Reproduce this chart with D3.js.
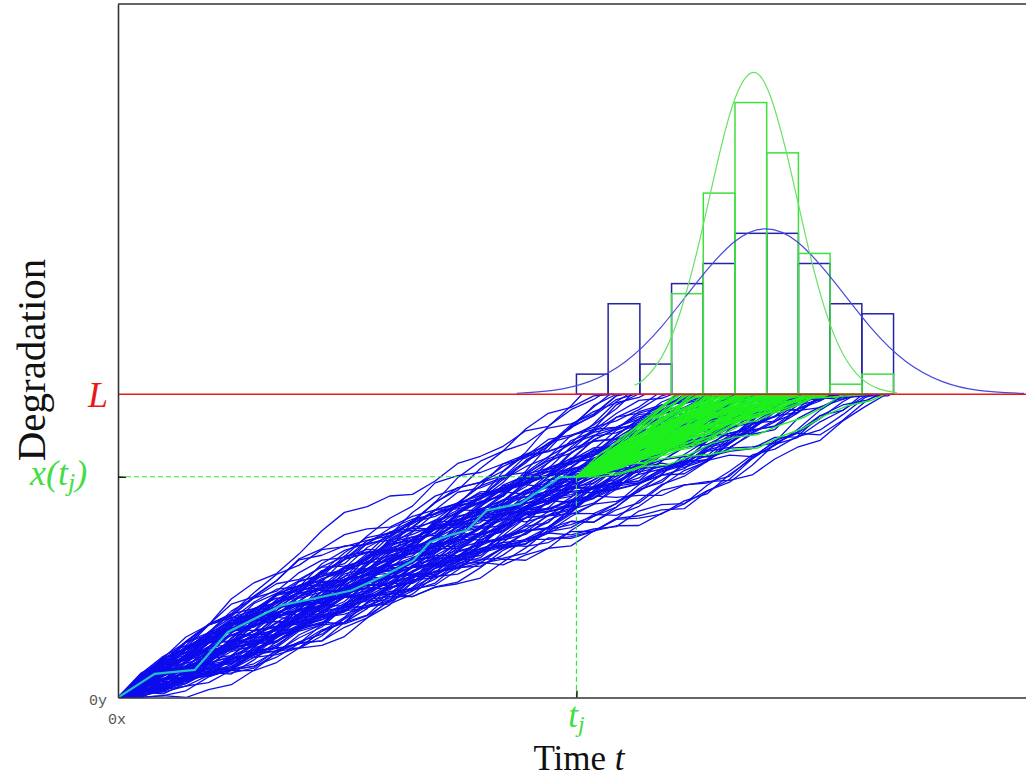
<!DOCTYPE html>
<html>
<head>
<meta charset="utf-8">
<script src="https://cdn.jsdelivr.net/npm/d3@7"></script>
<style>
  html, body { margin: 0; padding: 0; background: #fff; }
  svg { display: block; }
</style>
</head>
<body>
<svg id="chart" width="1026" height="780"></svg>
<script>
// ---- Model constants -------------------------------------------------------
const threshold = 1;          // failure threshold L
const tObs = 50.6;            // observation time t_j
const xObs = 0.728;           // observed degradation x(t_j)
const stepH = 2.5;            // simulation time step

// ---- Histograms of first-passage times (bins of width 3.5 starting at t_j) --
const binStart = 50.6;
const binWidth = 3.5;
const blueCounts  = [2, 9, 3, 11, 13, 16, 16, 13, 9, 8];
const greenCounts = [0, 0, 0, 10, 20, 29, 24, 14, 1, 2];

// ---- First-passage times of the unconditional (prior) paths ----------------
const blueHitTimes = [
  51.2, 53.4,
  54.3, 54.7, 55.0, 55.4, 55.9, 56.3, 56.7, 57.0, 57.4,
  58.2, 59.5, 60.6,
  61.2, 61.5, 61.8, 62.1, 62.5, 62.8, 63.1, 63.5, 63.8, 64.1, 64.4,
  64.7, 64.95, 65.2, 65.5, 65.8, 66.0, 66.3, 66.6, 66.9, 67.2, 67.5, 67.7, 68.0,
  68.2, 68.4, 68.6, 68.8, 69.0, 69.3, 69.5, 69.7, 69.9, 70.2, 70.4, 70.6, 70.8, 71.0, 71.2, 71.5,
  71.7, 71.9, 72.1, 72.3, 72.5, 72.8, 73.0, 73.2, 73.4, 73.7, 73.9, 74.1, 74.3, 74.5, 74.8, 75.0,
  75.2, 75.5, 75.8, 76.0, 76.3, 76.6, 76.9, 77.1, 77.4, 77.7, 77.9, 78.2, 78.5,
  78.7, 79.1, 79.5, 79.9, 80.3, 80.7, 81.1, 81.5, 81.9,
  82.2, 82.6, 83.0, 83.5, 83.9, 84.3, 84.8, 85.3
];

// ---- First-passage times of the paths conditioned on x(t_j) ----------------
const greenHitTimes = [
  61.5, 61.9, 62.2, 62.5, 62.8, 63.1, 63.4, 63.7, 64.0, 64.3,
  64.7, 64.85, 65.0, 65.2, 65.35, 65.5, 65.7, 65.85, 66.0, 66.2,
  66.35, 66.5, 66.7, 66.85, 67.0, 67.2, 67.35, 67.5, 67.7, 67.9,
  68.2, 68.3, 68.4, 68.5, 68.6, 68.7, 68.8, 68.9, 69.0, 69.1,
  69.2, 69.3, 69.4, 69.5, 69.6, 69.7, 69.8, 69.9, 70.0, 70.1,
  70.3, 70.5, 70.6, 70.8, 70.9, 71.0, 71.2, 71.3, 71.5,
  71.7, 71.8, 72.0, 72.1, 72.3, 72.4, 72.6, 72.7, 72.9, 73.0, 73.2, 73.3,
  73.5, 73.6, 73.8, 73.9, 74.1, 74.2, 74.4, 74.5, 74.6, 74.8, 74.9, 75.0,
  75.2, 75.4, 75.7, 75.9, 76.2, 76.4, 76.7, 76.9, 77.2, 77.4, 77.7, 77.9, 78.2, 78.4,
  80.0,
  83.0, 84.6
];

// ---- Observed degradation path up to t_j -----------------------------------
const observedPath = [
  [0, 0], [4.05, 0.078], [8.47, 0.091], [12.14, 0.216], [18.02, 0.304],
  [20.6, 0.320], [25.75, 0.353], [29.06, 0.397], [32.6, 0.452], [34.44, 0.513],
  [36.64, 0.535], [38.49, 0.551], [40.69, 0.617], [44.37, 0.639], [48.79, 0.727],
  [50.6, 0.728]
];

// ---- Fitted densities, expressed in histogram counts -----------------------
const blueFit = [
  [44, 0.1], [48, 0.39], [52, 1.26], [56, 3.24], [60, 6.73], [64, 11.25],
  [68, 15.14], [71.5, 16.45], [75, 15.14], [79, 11.25], [83, 6.73],
  [87, 3.24], [91, 1.26], [95, 0.39], [100, 0.08]
];
const greenFit = [
  [57, 0.9], [58, 1.44], [60, 3.69], [62, 7.98], [64, 14.55], [66, 22.41],
  [68, 29.15], [70.1, 32.0], [72, 29.65], [74, 23.2], [76, 15.32],
  [78, 8.54], [80, 4.02], [82, 1.6], [84, 0.54], [86, 0.15]
];

// ---- Step noise (standardised increments) used to roughen the paths --------
const noiseProfiles = [
  [1.1,0.3,0.9,-0.4,1.6,0.2,-0.8,0.7,1.2,0.5,-1.3,-0.6,-1.9,-0.2,0.4,-1.1,-0.7,0.1,-1.5,0.8,1.4,0.6,1.0,-0.3,0.9,0.2,-0.5,-1.2,-0.9,0.3,-0.6,-1.4,0.5,1.3,0.8,0.1],
  [-0.6,-1.2,0.4,-0.9,-1.5,0.3,-0.2,-0.8,1.0,-0.4,-1.1,0.6,0.2,1.5,0.9,1.2,-0.3,0.7,1.8,0.4,-0.5,0.1,-1.0,-1.6,-0.7,0.5,-0.3,1.1,0.6,-0.9,-0.4,1.3,0.8,1.0,-0.2,0.6],
  [0.2,1.4,1.0,0.6,-0.3,1.2,0.8,-0.5,0.4,-1.4,-0.9,-1.2,0.3,-0.7,-1.0,-0.4,1.1,0.5,-0.2,1.6,0.9,0.7,-0.6,0.3,-1.3,-0.8,-1.7,0.2,-0.5,0.9,1.3,0.4,-0.1,1.0,0.6,-0.8],
  [-1.3,0.4,-0.7,-0.2,-1.1,-0.6,0.9,-1.4,-0.3,0.5,1.3,1.0,-0.1,0.8,1.5,0.3,-0.6,1.1,0.2,-1.2,-0.4,-1.8,-0.5,0.6,-0.9,0.1,0.7,1.2,0.4,1.6,-0.3,0.5,-1.0,-0.7,0.2,-1.1],
  [0.9,-0.1,1.7,0.6,1.1,-0.8,0.5,1.3,-0.4,0.2,-1.0,-1.6,-0.3,-0.9,0.7,-1.2,-0.5,0.4,1.0,0.3,1.4,-0.2,0.8,0.6,-1.5,-0.7,-1.1,0.2,-0.6,-0.3,1.2,0.9,1.5,-0.4,0.1,0.7],
  [-0.4,0.8,-1.5,-1.0,0.3,-0.7,-1.3,-0.2,0.6,-0.8,1.2,0.4,1.7,0.9,-0.3,1.1,0.5,-0.9,0.2,-1.4,-0.6,0.7,-1.1,-0.5,1.3,0.8,1.0,0.3,-0.2,1.6,-0.7,-1.2,-0.4,0.5,-1.0,0.9],
  [1.5,0.7,-0.3,1.2,-0.6,0.9,0.4,1.1,-1.2,-0.5,-1.7,-0.8,0.3,-1.0,-0.4,-0.9,0.6,1.3,0.2,0.8,-0.1,1.0,-1.4,-0.6,0.4,-1.1,-0.7,-0.2,1.4,0.5,1.1,-0.3,0.7,-0.9,-1.3,0.2],
  [-0.9,-0.3,-1.2,0.5,-0.6,-1.6,0.2,0.9,1.4,0.6,1.0,-0.2,1.3,0.4,-0.8,-1.1,0.3,-0.5,-1.3,-0.7,0.8,1.2,0.1,1.5,0.6,-0.4,0.9,-1.0,-0.6,-1.5,0.3,-0.8,1.1,0.7,1.2,-0.2]
];

// ---- Layout ----------------------------------------------------------------
const svg = d3.select("#chart");
const W = 1026, H = 780;
const plot = { left: 118, right: 1026, top: 4, bottom: 697.5 };

const x = d3.scaleLinear().domain([0, 100.22]).range([plot.left, plot.right]);
const y = d3.scaleLinear().domain([0, 2.287]).range([plot.bottom, plot.top]);
const yCount = d3.scaleLinear().domain([0, 38.7]).range([y(threshold), 5]);

const serif = "'Liberation Serif', 'Times New Roman', serif";
const col = {
  blue: "#0c0cec",
  green: "#1ef01e",
  teal: "#22c2c2",
  red: "#e81818",
  barBlue: "#2424a8",
  barGreen: "#3ee03e",
  fitBlue: "#4848dc",
  fitGreen: "#66e266",
  label: "#44dd44"
};

svg.append("rect").attr("width", W).attr("height", H).attr("fill", "#fff");

svg.append("defs").append("clipPath").attr("id", "plotClip")
  .append("rect")
  .attr("x", plot.left).attr("y", plot.top)
  .attr("width", plot.right - plot.left).attr("height", plot.bottom - plot.top);

const g = svg.append("g").attr("clip-path", "url(#plotClip)");

// Bridge-shaped path from (t0, y0) reaching the threshold exactly at T
function bridgePath(t0, y0, T, prof, sign, off, sigma) {
  const n = prof.length;
  const K = Math.max(1, Math.ceil((T - t0) / stepH));
  const Wk = [0];
  for (let k = 1; k <= K; k++) Wk.push(Wk[k - 1] + sign * prof[(k - 1 + off) % n]);
  const frac = (T - t0 - (K - 1) * stepH) / stepH;
  const WT = Wk[K - 1] + frac * (Wk[K] - Wk[K - 1]);
  const pts = [];
  for (let k = 0; k < K; k++) {
    const t = t0 + k * stepH;
    const s = (t - t0) / (T - t0);
    let v = y0 + (threshold - y0) * s + sigma * (Wk[k] - s * WT);
    v = Math.max(0, Math.min(v, threshold * 0.995));
    pts.push([t, v]);
  }
  pts.push([T, threshold]);
  return pts;
}

const line = d3.line().x(d => x(d[0])).y(d => y(d[1]));

// Prior degradation paths
const bluePaths = blueHitTimes.map((T, i) => {
  const v = Math.floor(i / noiseProfiles.length);
  return bridgePath(0, 0, T, noiseProfiles[i % noiseProfiles.length],
                    v % 2 ? -1 : 1, v * 5, 0.023);
});
g.append("g").selectAll("path").data(bluePaths).join("path")
  .attr("d", line)
  .attr("fill", "none")
  .attr("stroke", col.blue)
  .attr("stroke-width", 1.3)
  .attr("stroke-linejoin", "round");

// Paths conditioned on the observation at t_j
const greenPaths = greenHitTimes.map((T, i) => {
  const v = Math.floor(i / noiseProfiles.length);
  return bridgePath(tObs, xObs, T, noiseProfiles[(i + 3) % noiseProfiles.length],
                    v % 2 ? 1 : -1, v * 3, 0.014);
});
g.append("g").selectAll("path").data(greenPaths).join("path")
  .attr("d", line)
  .attr("fill", "none")
  .attr("stroke", col.green)
  .attr("stroke-width", 1.4)
  .attr("stroke-linejoin", "round");

// Observed path
g.append("path").datum(observedPath)
  .attr("d", line)
  .attr("fill", "none")
  .attr("stroke", col.teal)
  .attr("stroke-width", 2.2);

// Guides to the observation point
g.append("line")
  .attr("x1", x(0)).attr("x2", x(tObs))
  .attr("y1", y(xObs)).attr("y2", y(xObs))
  .attr("stroke", col.green).attr("stroke-width", 1.2)
  .attr("stroke-dasharray", "5,3");
g.append("line")
  .attr("x1", x(tObs)).attr("x2", x(tObs))
  .attr("y1", y(xObs)).attr("y2", y(0))
  .attr("stroke", col.green).attr("stroke-width", 1.2)
  .attr("stroke-dasharray", "5,3");

// Histograms sitting on the threshold line
const blueBins = blueCounts.map((c, i) => ({ t0: binStart + i * binWidth, c }));
const greenBins = greenCounts.map((c, i) => ({ t0: binStart + i * binWidth, c }))
  .filter(d => d.c > 0);

g.append("g").selectAll("rect").data(blueBins).join("rect")
  .attr("x", d => x(d.t0))
  .attr("width", d => x(d.t0 + binWidth) - x(d.t0))
  .attr("y", d => yCount(d.c))
  .attr("height", d => yCount(0) - yCount(d.c))
  .attr("fill", "none")
  .attr("stroke", col.barBlue)
  .attr("stroke-width", 1.5);

g.append("g").selectAll("rect").data(greenBins).join("rect")
  .attr("x", d => x(d.t0))
  .attr("width", d => x(d.t0 + binWidth) - x(d.t0))
  .attr("y", d => yCount(d.c))
  .attr("height", d => yCount(0) - yCount(d.c))
  .attr("fill", "none")
  .attr("stroke", col.barGreen)
  .attr("stroke-width", 1.5);

// Fitted densities
const fitLine = d3.line().x(d => x(d[0])).y(d => yCount(d[1])).curve(d3.curveNatural);
g.append("path").datum(blueFit)
  .attr("d", fitLine).attr("fill", "none")
  .attr("stroke", col.fitBlue).attr("stroke-width", 1.2);
g.append("path").datum(greenFit)
  .attr("d", fitLine).attr("fill", "none")
  .attr("stroke", col.fitGreen).attr("stroke-width", 1.2);

// Threshold line L
g.append("line")
  .attr("x1", x(0)).attr("x2", plot.right)
  .attr("y1", y(threshold)).attr("y2", y(threshold))
  .attr("stroke", col.red).attr("stroke-width", 1.5);

// ---- Axes and frame --------------------------------------------------------
const axisX = d3.axisBottom(x).tickValues([tObs]).tickSizeInner(-7).tickSizeOuter(0)
  .tickFormat(() => "");
const axisY = d3.axisLeft(y).tickValues([xObs]).tickSizeInner(-8).tickSizeOuter(0)
  .tickFormat(() => "");

const gx = svg.append("g").attr("transform", `translate(0,${plot.bottom})`).call(axisX);
const gy = svg.append("g").attr("transform", `translate(${plot.left},0)`).call(axisY);
[gx, gy].forEach(a => {
  a.select(".domain").attr("stroke", "#333").attr("stroke-width", 1.6);
  a.selectAll(".tick line").attr("stroke", "#111").attr("stroke-width", 1.4);
});
svg.append("line")
  .attr("x1", plot.left).attr("x2", plot.right)
  .attr("y1", plot.top).attr("y2", plot.top)
  .attr("stroke", "#333").attr("stroke-width", 1.6);

// ---- Labels ----------------------------------------------------------------
svg.append("text")
  .attr("transform", "translate(45,360) rotate(-90)")
  .attr("text-anchor", "middle")
  .attr("font-family", serif).attr("font-size", 41)
  .attr("fill", "#111")
  .text("Degradation");

svg.append("text")
  .attr("x", 108).attr("y", 407)
  .attr("text-anchor", "end")
  .attr("font-family", serif).attr("font-size", 36).attr("font-style", "italic")
  .attr("fill", col.red)
  .text("L");

const xl = svg.append("text")
  .attr("x", 30).attr("y", 485)
  .attr("font-family", serif).attr("font-size", 36).attr("font-style", "italic")
  .attr("fill", col.label);
xl.append("tspan").text("x(t");
xl.append("tspan").attr("font-size", 26).attr("dy", 6).text("j");
xl.append("tspan").attr("dy", -6).text(")");

const tl = svg.append("text")
  .attr("x", x(tObs)).attr("y", 727)
  .attr("text-anchor", "middle")
  .attr("font-family", serif).attr("font-size", 35).attr("font-style", "italic")
  .attr("fill", col.label);
tl.append("tspan").text("t");
tl.append("tspan").attr("font-size", 24).attr("dy", 5).text("j");

const tt = svg.append("text")
  .attr("x", 579).attr("y", 770)
  .attr("text-anchor", "middle")
  .attr("font-family", serif).attr("font-size", 35)
  .attr("fill", "#111");
tt.append("tspan").text("Time ");
tt.append("tspan").attr("font-style", "italic").text("t");

svg.append("text")
  .attr("x", 107).attr("y", 705)
  .attr("text-anchor", "end")
  .attr("font-family", "'Liberation Mono', monospace").attr("font-size", 15)
  .attr("fill", "#555")
  .text("0y");
svg.append("text")
  .attr("x", 108).attr("y", 724)
  .attr("font-family", "'Liberation Mono', monospace").attr("font-size", 15)
  .attr("fill", "#555")
  .text("0x");
</script>
</body>
</html>
